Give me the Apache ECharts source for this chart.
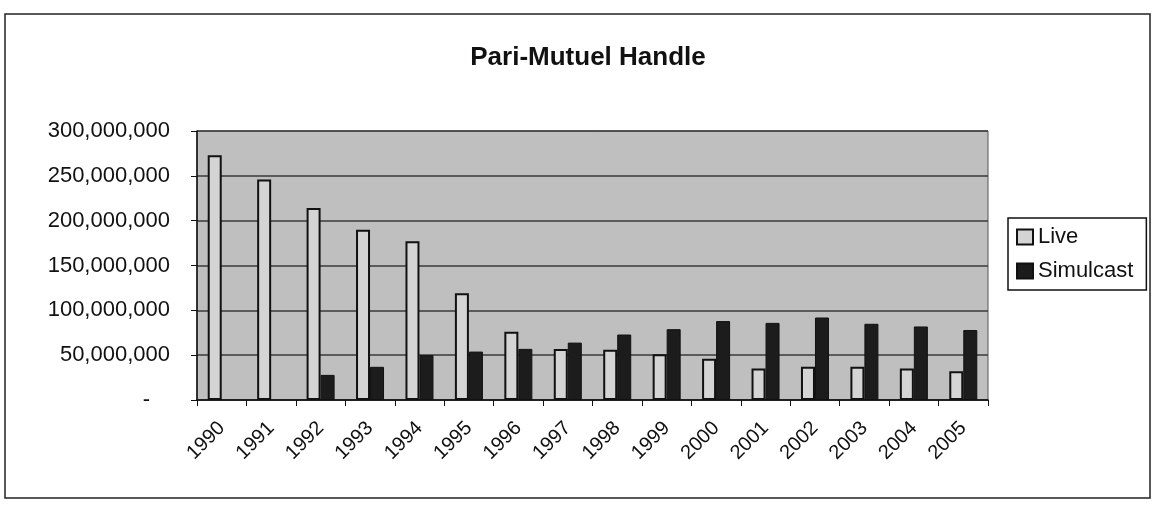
<!DOCTYPE html>
<html>
<head>
<meta charset="utf-8">
<script src="https://cdn.jsdelivr.net/npm/echarts@6/dist/echarts.min.js"></script>
<style>
  html, body { margin: 0; padding: 0; background: #fff; }
  #chart { width: 1154px; height: 510px; }
</style>
</head>
<body>
<div id="chart"></div>
<script>
// years on the x axis
const years = ['1990', '1991', '1992', '1993', '1994', '1995', '1996', '1997',
  '1998', '1999', '2000', '2001', '2002', '2003', '2004', '2005']
// handle in dollars
const live = [273000000, 246000000, 214000000, 190000000, 177000000, 119000000, 76000000, 57000000,
  56000000, 51000000, 46000000, 35000000, 37000000, 37000000, 35000000, 32000000]
const simulcast = [null, null, 28000000, 37000000, 50000000, 54000000, 57000000, 64000000,
  73000000, 79000000, 88000000, 86000000, 92000000, 85000000, 82000000, 78000000]

const font = 'Liberation Sans, Arial, sans-serif'
const chart = echarts.init(document.getElementById('chart'))

chart.setOption({
  animation: false,
  textStyle: {fontFamily: font, color: '#111'},
  title: {
    text: 'Pari-Mutuel Handle',
    left: 583,
    textAlign: 'center',
    top: 40,
    textStyle: {fontFamily: font, fontSize: 26, fontWeight: 'bold', color: '#111'}
  },
  // outer frame of the chart
  graphic: [{
    type: 'rect',
    shape: {x: 5, y: 14, width: 1145, height: 484},
    style: {fill: 'none', stroke: '#222', lineWidth: 1.5},
    silent: true
  }],
  legend: {
    orient: 'vertical',
    left: 1008,
    top: 218,
    icon: 'rect',
    itemWidth: 16,
    itemHeight: 15,
    itemGap: 12,
    padding: [8, 13, 8, 8],
    borderColor: '#111',
    borderWidth: 1.5,
    textStyle: {fontFamily: font, fontSize: 22, color: '#111'},
    data: ['Live', 'Simulcast']
  },
  grid: {
    left: 197,
    right: 166,
    top: 131,
    bottom: 110,
    show: true,
    backgroundColor: '#bfbfbf',
    borderColor: '#555',
    borderWidth: 1
  },
  xAxis: {
    type: 'category',
    data: years,
    axisLine: {lineStyle: {color: '#111', width: 1.5}},
    axisTick: {show: true, length: 6, lineStyle: {color: '#111'}},
    axisLabel: {rotate: 45, fontSize: 20, color: '#111', margin: 25, fontFamily: font}
  },
  yAxis: {
    type: 'value',
    min: 0,
    max: 300000000,
    interval: 50000000,
    axisLine: {show: true, lineStyle: {color: '#111', width: 1.5}},
    axisTick: {show: true, length: 6, lineStyle: {color: '#111'}},
    splitLine: {lineStyle: {color: '#3a3a3a', width: 1.5}},
    axisLabel: {
      fontSize: 22,
      color: '#111',
      margin: 27,
      fontFamily: font,
      formatter: function (v) {
        if (v === 0) return '{d|-}'
        return v.toLocaleString('en-US')
      },
      rich: {d: {fontSize: 22, padding: [0, 20, 0, 0], color: '#111'}}
    }
  },
  series: [
    {
      name: 'Live',
      type: 'bar',
      data: live,
      barWidth: 14,
      barGap: '0%',
      itemStyle: {color: '#d4d4d4', borderColor: '#111', borderWidth: 2}
    },
    {
      name: 'Simulcast',
      type: 'bar',
      data: simulcast,
      barWidth: 14,
      itemStyle: {color: '#1c1c1c', borderColor: '#111', borderWidth: 1}
    }
  ]
})
</script>
</body>
</html>
